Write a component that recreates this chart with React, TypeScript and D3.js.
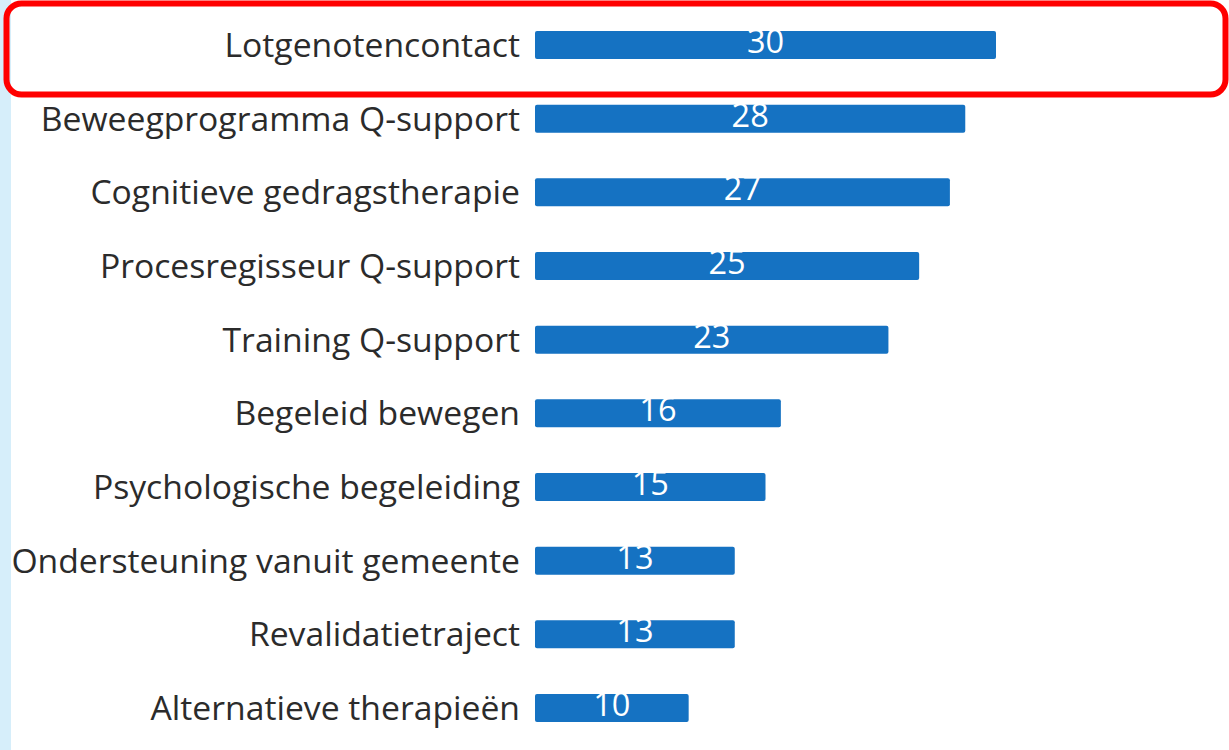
import * as d3 from "d3";
import React, { useEffect, useRef } from "react";

const categories = [
  "Lotgenotencontact",
  "Beweegprogramma Q-support",
  "Cognitieve gedragstherapie",
  "Procesregisseur Q-support",
  "Training Q-support",
  "Begeleid bewegen",
  "Psychologische begeleiding",
  "Ondersteuning vanuit gemeente",
  "Revalidatietraject",
  "Alternatieve therapieën",
];
const values = [30, 28, 27, 25, 23, 16, 15, 13, 13, 10];

export default function App() {
  const ref = useRef<SVGSVGElement>(null);

  useEffect(() => {
    const width = 1229;
    const height = 750;
    const svg = d3.select(ref.current);
    svg.selectAll("*").remove();
    svg.attr("width", width).attr("height", height);

    // light blue strip on the left edge
    svg.append("rect").attr("x", 0).attr("y", 0).attr("width", 11).attr("height", height).attr("fill", "#d6eefa");

    const x = d3.scaleLinear().domain([0, 30]).range([535, 996]);
    const y = d3.scalePoint<string>().domain(categories).range([45, 708]);
    const barH = 28;

    const rows = svg.selectAll("g.row").data(categories).enter().append("g").attr("class", "row");

    rows.append("rect")
      .attr("x", x(0))
      .attr("y", (d) => (y(d) as number) - barH / 2)
      .attr("width", (d, i) => x(values[i]) - x(0))
      .attr("height", barH)
      .attr("rx", 2)
      .attr("fill", "#1572c2");

    rows.append("text")
      .attr("x", 520)
      .attr("y", (d) => (y(d) as number) + 12)
      .attr("text-anchor", "end")
      .attr("font-family", "'Open Sans', sans-serif")
      .attr("font-size", 33.7)
      .attr("fill", "#2b2b2b")
      .text((d) => d);

    rows.append("text")
      .attr("x", (d, i) => (x(0) + x(values[i])) / 2)
      .attr("y", (d) => (y(d) as number) + 8)
      .attr("text-anchor", "middle")
      .attr("font-family", "'Open Sans', sans-serif")
      .attr("font-size", 32.5)
      .attr("fill", "#ffffff")
      .text((d, i) => values[i]);

    // red highlight around first row
    svg.append("rect")
      .attr("x", 6.5).attr("y", 3.5)
      .attr("width", 1219).attr("height", 91)
      .attr("rx", 15)
      .attr("fill", "none")
      .attr("stroke", "#ff0000")
      .attr("stroke-width", 6);
  }, []);

  return (
    <svg ref={ref} style={{ position: "absolute", left: 0, top: 0, background: "#fff" }}></svg>
  );
}
